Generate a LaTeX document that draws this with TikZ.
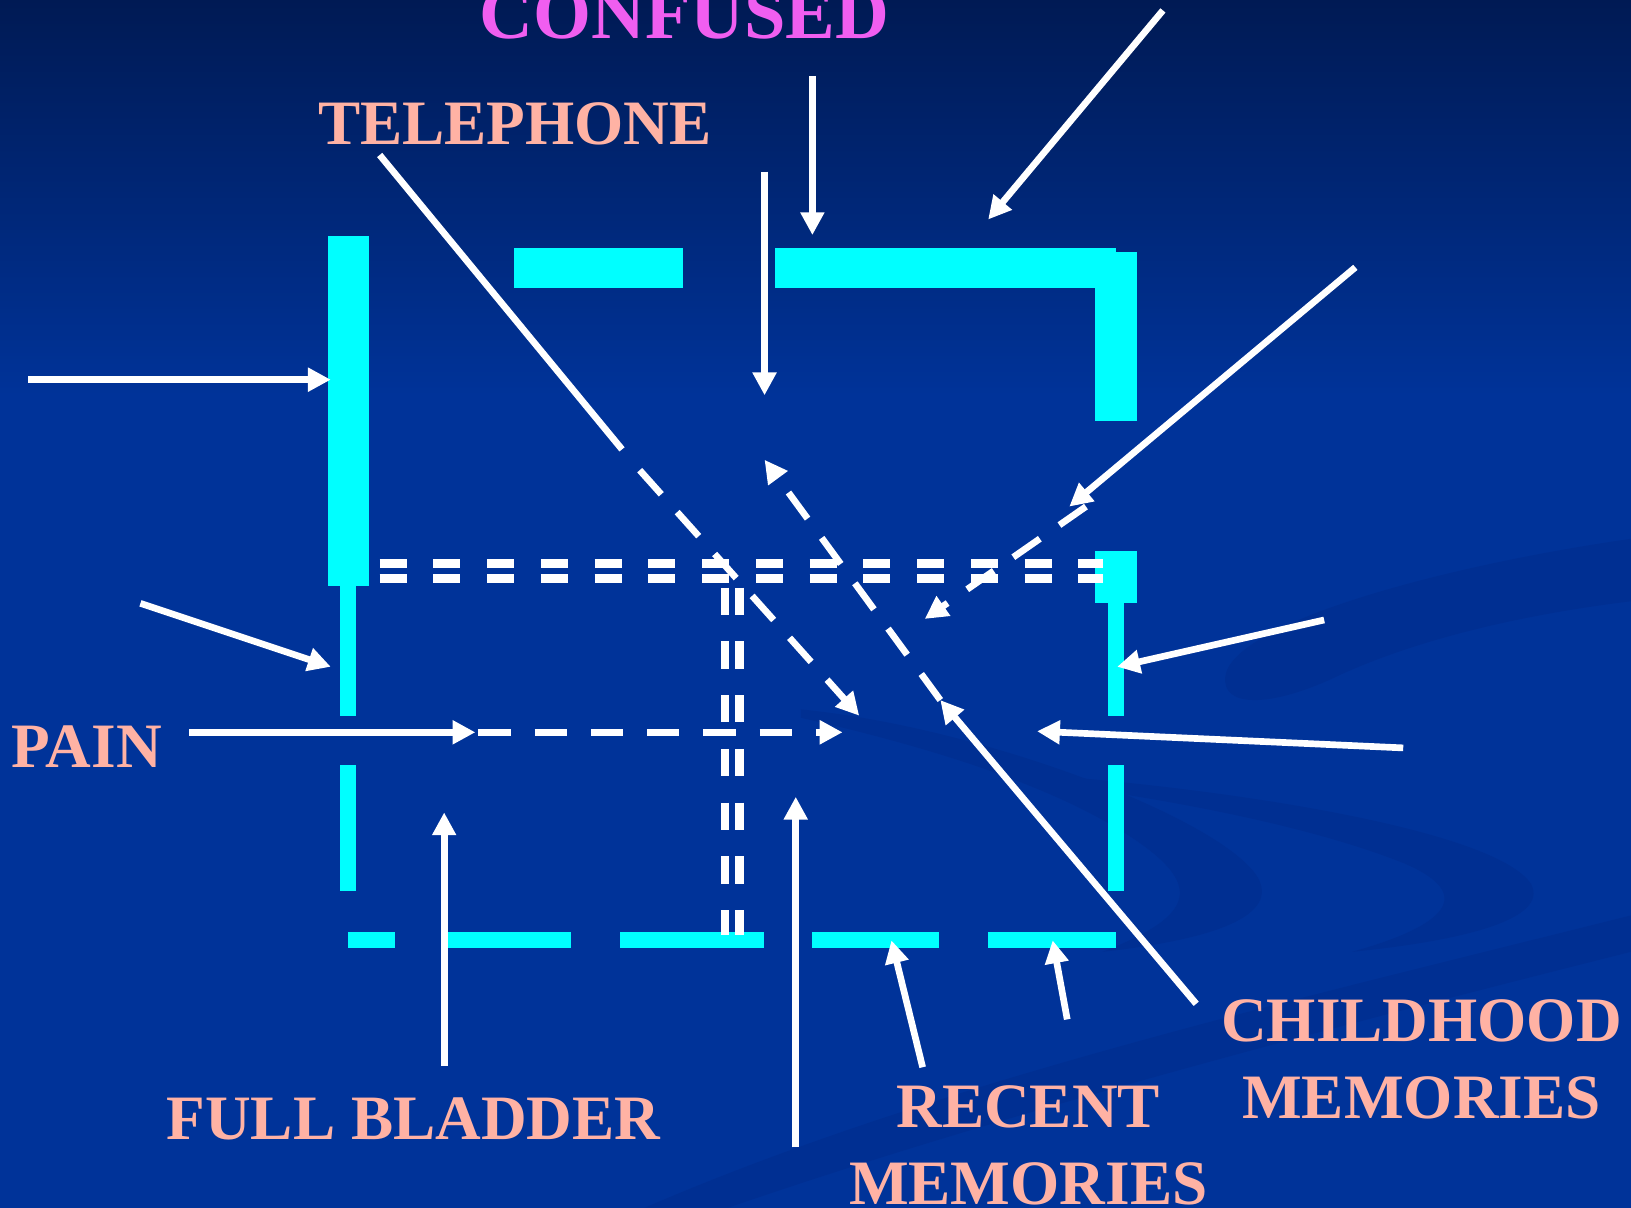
\documentclass[tikz,border=0pt]{standalone}
\usepackage{fontspec}
\setmainfont{Liberation Serif}
\usepackage{xcolor}
\definecolor{bgtop}{RGB}{0,26,84}
\definecolor{bgmain}{RGB}{0,51,153}
\definecolor{bgswirl}{RGB}{0,47,146}
\definecolor{wallcyan}{RGB}{0,255,255}
\definecolor{lblpink}{RGB}{255,178,164}
\definecolor{titlemagenta}{RGB}{240,94,240}
\usetikzlibrary{arrows.meta}

\begin{document}
\begin{tikzpicture}[x=0.010402cm, y=-0.010402cm,
  lbl/.style={font=\fontsize{18pt}{21.9pt}\selectfont\bfseries, lblpink,
              anchor=base, align=center, inner sep=0pt},
  wall/.style={fill=wallcyan},
  ray/.style={white, line width=1.9pt, -{Triangle[length=6.5pt,width=6.5pt]}},
  rayline/.style={white, line width=1.9pt},
  broken/.style={dash pattern=on 9.2pt off 6.8pt},
  twin/.style={white, line width=2.55pt, dash pattern=on 7.7pt off 7.6pt}]

% === Background ===
\useasboundingbox (0,0) rectangle (1568,1161);
\fill[bgmain] (0,0) rectangle (1568,1161);
\shade[top color=bgtop, bottom color=bgmain] (0,0) rectangle (1568,380);
% faint swirls
\fill[bgswirl] (1568,518) .. controls (1380,545) and (1185,600) .. (1178,650)
      .. controls (1174,680) and (1220,682) .. (1290,648)
      .. controls (1370,612) and (1470,590) .. (1568,578) -- cycle;
\fill[bgswirl] (770,682) .. controls (950,700) and (1180,790) .. (1210,845)
      .. controls (1230,885) and (1150,905) .. (1060,915)
      .. controls (1150,880) and (1160,850) .. (1080,800)
      .. controls (1000,750) and (880,715) .. (770,690) -- cycle;
\fill[bgswirl] (1000,745) .. controls (1200,760) and (1440,800) .. (1472,850)
      .. controls (1490,885) and (1400,905) .. (1300,915)
      .. controls (1390,890) and (1420,860) .. (1350,830)
      .. controls (1250,790) and (1100,765) .. (1000,752) -- cycle;
\fill[bgswirl] (620,1161) .. controls (900,1040) and (1250,960) .. (1568,880)
      -- (1568,915) .. controls (1250,995) and (950,1075) .. (700,1161) -- cycle;

% === Walls (cyan) ===
\fill[wall] (315,227) rectangle (355,563);
\fill[wall] (494,238) rectangle (657,277);
\fill[wall] (745,238) rectangle (1073,277);
\fill[wall] (1053,242) rectangle (1093,405);
\fill[wall] (1053,530) rectangle (1093,580);
% thin walls
\fill[wall] (327,563) rectangle (342,688);
\fill[wall] (327,735) rectangle (342,857);
\fill[wall] (1065.5,580) rectangle (1080.5,688);
\fill[wall] (1065.5,735) rectangle (1080.5,857);
\foreach \a/\b in {335/380, 430/549, 596/734, 781/903, 950/1073}
  \fill[wall] (\a,896) rectangle (\b,911);

% === Double dashed corridors ===
\foreach \y in {542,556} \draw[twin] (365,\y) -- (1060,\y);
\foreach \x in {697,711} \draw[twin] (\x,565) -- (\x,899);

% === Arrows ===
\draw[ray] (27,365) -- (318,365);
\draw[ray] (135,580) -- (318,641);
\draw[ray] (182,704) -- (457,704);
\draw[ray, broken] (460,704) -- (810,704);
\draw[ray] (427,1025) -- (427,781);
\draw[ray] (765,1103) -- (765,766);
\draw[ray] (887,1026) -- (857,904);
\draw[ray] (1026,980) -- (1012,904);
\draw[ray] (781,73) -- (781,226);
\draw[ray] (735,165) -- (735,380);
\draw[ray] (1118,10) -- (950,211);
\draw[ray] (1303,257) -- (1028,487);
\draw[ray, broken] (1044,487) -- (889,595);
\draw[ray] (1273,596) -- (1074,641);
\draw[ray] (1349,719) -- (997,703);
% from telephone
\draw[rayline] (365,149) -- (598,432);
\draw[ray, broken] (615,452) -- (826,688);
% from childhood memories
\draw[ray] (1150,965) -- (904,673);
\draw[ray, broken] (904,673) -- (735,442);

% === Labels ===
\node[lbl, font=\fontsize{21.2pt}{25pt}\selectfont\bfseries, titlemagenta] (confused) at (658,37) {CONFUSED};
\node[lbl] (telephone) at (495,139) {TELEPHONE};
\node[lbl] (pain) at (83.5,738) {PAIN};
\node[lbl] (bladder) at (397.5,1095) {FULL BLADDER};
\node[lbl] (recent) at (988.5,1158) {RECENT\\MEMORIES};
\node[lbl] (childhood) at (1366.5,1075) {CHILDHOOD\\MEMORIES};

\end{tikzpicture}
\end{document}
